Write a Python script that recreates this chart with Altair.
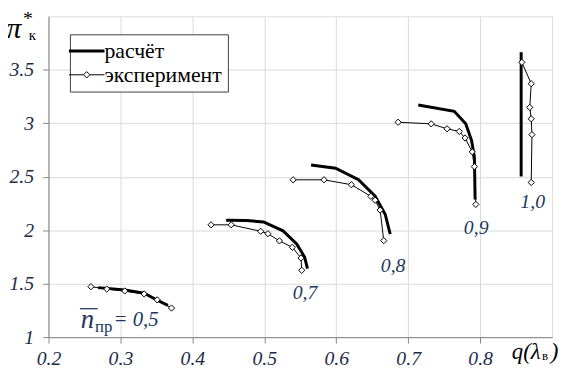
import altair as alt
import pandas as pd

# ---- data ----
speeds = ["0,5", "0,7", "0,8", "0,9", "1,0"]

calc_05_x = [0.269, 0.306, 0.333, 0.352, 0.366]
calc_05_y = [1.463, 1.441, 1.411, 1.343, 1.297]
calc_07_x = [0.447, 0.475, 0.499, 0.526, 0.545, 0.556, 0.560]
calc_07_y = [2.093, 2.090, 2.077, 1.994, 1.872, 1.749, 1.641]
calc_08_x = [0.565, 0.599, 0.631, 0.654, 0.668, 0.675]
calc_08_y = [2.610, 2.579, 2.471, 2.317, 2.149, 1.964]
calc_09_x = [0.714, 0.764, 0.780, 0.788, 0.792, 0.793]
calc_09_y = [3.170, 3.111, 2.994, 2.840, 2.686, 2.287]
calc_10_x = [0.857, 0.857]
calc_10_y = [3.664, 2.502]

exp_05_x = [0.259, 0.281, 0.306, 0.333, 0.351, 0.371]
exp_05_y = [1.472, 1.450, 1.432, 1.404, 1.349, 1.272]
exp_07_x = [0.426, 0.454, 0.495, 0.505, 0.521, 0.539, 0.551, 0.552]
exp_07_y = [2.050, 2.050, 1.990, 1.967, 1.900, 1.840, 1.740, 1.625]
exp_08_x = [0.540, 0.583, 0.621, 0.648, 0.654, 0.661, 0.666]
exp_08_y = [2.471, 2.471, 2.425, 2.317, 2.280, 2.188, 1.902]
exp_09_x = [0.686, 0.732, 0.754, 0.771, 0.779, 0.789, 0.792, 0.794]
exp_09_y = [3.009, 2.994, 2.948, 2.923, 2.862, 2.732, 2.594, 2.241]
exp_10_x = [0.858, 0.871, 0.869, 0.871, 0.872, 0.871]
exp_10_y = [3.569, 3.369, 3.148, 3.041, 2.893, 2.446]

series_names = ["расчёт", "эксперимент"]

x_ticks = [0.2, 0.3, 0.4, 0.5, 0.6, 0.7, 0.8]
y_ticks = [1, 1.5, 2, 2.5, 3, 3.5]

curve_labels = ["0,7", "0,8", "0,9", "1,0"]
curve_label_x = [0.5565, 0.679, 0.7945, 0.873]
curve_label_y = [1.411, 1.660, 2.019, 2.259]

# ---- tables ----
calc_sets = [calc_05_x, calc_07_x, calc_08_x, calc_09_x, calc_10_x]
calc_sets_y = [calc_05_y, calc_07_y, calc_08_y, calc_09_y, calc_10_y]
exp_sets = [exp_05_x, exp_07_x, exp_08_x, exp_09_x, exp_10_x]
exp_sets_y = [exp_05_y, exp_07_y, exp_08_y, exp_09_y, exp_10_y]

rows = []
for s, xs_, ys_ in zip(speeds, calc_sets, calc_sets_y):
    for i, (a, b) in enumerate(zip(xs_, ys_)):
        rows.append({"speed": s, "series": series_names[0], "x": a, "y": b, "i": i})
for s, xs_, ys_ in zip(speeds, exp_sets, exp_sets_y):
    for i, (a, b) in enumerate(zip(xs_, ys_)):
        rows.append({"speed": s, "series": series_names[1], "x": a, "y": b, "i": i})
df = pd.DataFrame(rows)
calc_df = df[df.series == series_names[0]]
exp_df = df[df.series == series_names[1]]

lab_df = pd.DataFrame({"t": curve_labels, "x": curve_label_x, "y": curve_label_y})

SERIF = "Liberation Serif"
LABEL_COLOR = "#22365e"
TICK_COLOR = "#1c2a48"
AX_COLOR = "#868686"

xs = alt.Scale(domain=[0.2, 0.9], nice=False, zero=False)
ys = alt.Scale(domain=[1, 4], nice=False, zero=False)

x_enc = alt.X("x:Q", scale=xs, axis=alt.Axis(
    values=x_ticks, format=".1f", title=None, grid=True,
    labelFont=SERIF, labelFontStyle="italic", labelFontSize=20, labelColor=TICK_COLOR,
    labelPadding=6, tickSize=6, tickColor=AX_COLOR, domainColor=AX_COLOR,
    gridColor="#d9d9d9", labelFlush=False))
y_enc = alt.Y("y:Q", scale=ys, axis=alt.Axis(
    values=y_ticks, format="~g", title=None, grid=True,
    labelFont=SERIF, labelFontStyle="italic", labelFontSize=20, labelColor=TICK_COLOR,
    labelPadding=9, tickSize=6, tickColor=AX_COLOR, domainColor=AX_COLOR,
    gridColor="#d9d9d9", labelFlush=False))

LINE_PATH = "M-1,0H1"
EXP_PATH = "M-1,0H-0.18M0.18,0H1M-0.18,0L0,-0.18L0.18,0L0,0.18Z"
IS_CALC = "datum.value === 'расчёт'"

legend = alt.Legend(
    title=None, orient="none", legendX=21.7, legendY=18.3,
    padding=6, fillColor="white", strokeColor="#404040",
    labelFont=SERIF, labelFontSize=22, labelColor="black",
    symbolSize=1296, labelOffset=7, rowPadding=2,
    symbolType={"expr": f"{IS_CALC} ? '{LINE_PATH}' : '{EXP_PATH}'"},
    symbolStrokeWidth={"expr": f"{IS_CALC} ? 3 : 1"},
    symbolFillColor="white", symbolStrokeColor="black",
)

stroke_enc = alt.Stroke("series:N", scale=alt.Scale(domain=series_names, range=["black", "black"]), legend=legend)

calc_layer = alt.Chart(calc_df).mark_line(strokeWidth=3).encode(
    x=x_enc, y=y_enc, detail="speed:N", order="i:Q", stroke=stroke_enc)
exp_line = alt.Chart(exp_df).mark_line(strokeWidth=1).encode(
    x=x_enc, y=y_enc, detail="speed:N", order="i:Q", stroke=stroke_enc)
exp_pts = alt.Chart(exp_df).mark_point(shape="diamond", filled=True, fill="white",
                                       stroke="black", strokeWidth=1, size=40, opacity=1).encode(
    x=x_enc, y=y_enc)

curve_txt = alt.Chart(lab_df).mark_text(font=SERIF, fontStyle="italic", fontSize=20,
                                        color=LABEL_COLOR, align="center", baseline="middle").encode(
    x=alt.X("x:Q", scale=xs), y=alt.Y("y:Q", scale=ys), text="t:N")

# n̄пр = 0,5 composite label
n_df = pd.DataFrame({"t": ["n"], "x": [0.254], "y": [1.16]})
sub_df = pd.DataFrame({"t": ["пр"], "x": [0.2767], "y": [1.095]})
eq_df = pd.DataFrame({"t": ["= 0,5"], "x": [0.2904], "y": [1.164]})
bar_df = pd.DataFrame({"x": [0.2437], "x2": [0.2684], "y": [1.266]})

n_txt = alt.Chart(n_df).mark_text(font=SERIF, fontStyle="italic", fontSize=27, color=LABEL_COLOR,
                                  align="center", baseline="middle").encode(
    x=alt.X("x:Q", scale=xs), y=alt.Y("y:Q", scale=ys), text="t:N")
sub_txt = alt.Chart(sub_df).mark_text(font=SERIF, fontSize=17, color=LABEL_COLOR,
                                      align="center", baseline="middle").encode(
    x=alt.X("x:Q", scale=xs), y=alt.Y("y:Q", scale=ys), text="t:N")
eq_txt = alt.Chart(eq_df).mark_text(font=SERIF, fontStyle="italic", fontSize=21, color=LABEL_COLOR,
                                    align="left", baseline="middle").encode(
    x=alt.X("x:Q", scale=xs), y=alt.Y("y:Q", scale=ys), text="t:N")
bar = alt.Chart(bar_df).mark_rule(color=LABEL_COLOR, strokeWidth=1.3).encode(
    x=alt.X("x:Q", scale=xs), x2="x2:Q", y=alt.Y("y:Q", scale=ys))

# axis titles built from text pieces
ttl_df = pd.DataFrame({
    "t": ["π", "*", "к", "q(λ", "в", ")"],
    "x": [0.152, 0.1715, 0.1775, 0.844, 0.886, 0.898],
    "y": [3.88, 3.975, 3.825, 0.857, 0.82, 0.857],
    "k": ["big", "star", "sub", "bigl", "subl", "bigl"],
})
t_big = alt.Chart(ttl_df[ttl_df.k == "big"]).mark_text(font=SERIF, fontStyle="italic", fontSize=30,
                                                       color="black", align="center", baseline="middle").encode(
    x=alt.X("x:Q", scale=xs), y=alt.Y("y:Q", scale=ys), text="t:N")
t_star = alt.Chart(ttl_df[ttl_df.k == "star"]).mark_text(font=SERIF, fontSize=20,
                                                         color="black", align="center", baseline="middle").encode(
    x=alt.X("x:Q", scale=xs), y=alt.Y("y:Q", scale=ys), text="t:N")
t_sub = alt.Chart(ttl_df[ttl_df.k == "sub"]).mark_text(font=SERIF, fontSize=15,
                                                       color="black", align="center", baseline="middle").encode(
    x=alt.X("x:Q", scale=xs), y=alt.Y("y:Q", scale=ys), text="t:N")
t_bigl = alt.Chart(ttl_df[ttl_df.k == "bigl"]).mark_text(font=SERIF, fontStyle="italic", fontSize=23,
                                                         color="black", align="left", baseline="middle").encode(
    x=alt.X("x:Q", scale=xs), y=alt.Y("y:Q", scale=ys), text="t:N")
t_subl = alt.Chart(ttl_df[ttl_df.k == "subl"]).mark_text(font=SERIF, fontSize=13,
                                                         color="black", align="left", baseline="middle").encode(
    x=alt.X("x:Q", scale=xs), y=alt.Y("y:Q", scale=ys), text="t:N")

chart = alt.layer(
    calc_layer, exp_line, exp_pts, curve_txt, n_txt, sub_txt, eq_txt, bar,
    t_big, t_star, t_sub, t_bigl, t_subl,
).properties(
    width=510, height=325,
    autosize=alt.AutoSizeParams(type="none"),
    padding={"left": 41, "top": 6, "right": 7, "bottom": 37},
).configure_view(
    stroke=AX_COLOR, strokeWidth=1
).configure(background="white")

chart.save("out.html", embed_options={"renderer": "svg", "actions": False})
